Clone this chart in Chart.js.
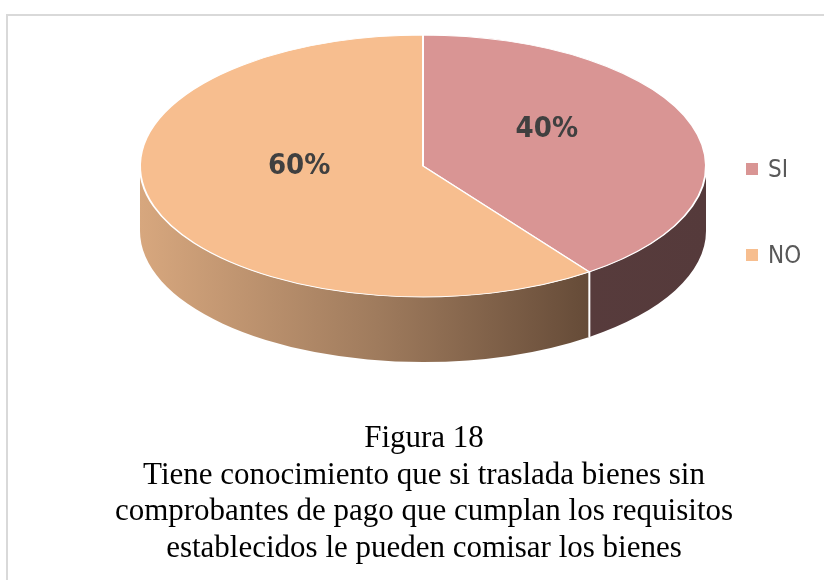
<!DOCTYPE html>
<html>
<head>
<meta charset="utf-8">
<script src="https://cdn.jsdelivr.net/npm/chart.js@4/dist/chart.umd.min.js"></script>
<style>
  html, body { margin: 0; padding: 0; background: #fff; }
  #wrap { position: relative; width: 824px; height: 580px; overflow: hidden; }
  #frame { position: absolute; left: 6px; top: 14px; width: 830px; height: 600px;
           border-top: 2px solid #d9d9d9; border-left: 2px solid #d9d9d9; }
  canvas { position: absolute; left: 0; top: 0; }
  #caption { position: absolute; left: 0; width: 848px; top: 419px; text-align: center;
             font-family: "Liberation Serif", "Times New Roman", serif; font-size: 31px;
             line-height: 36.5px; color: #000; }
</style>
</head>
<body>
<div id="wrap">
  <div id="frame"></div>
  <canvas id="chart" width="824" height="580"></canvas>
  <div id="caption">Figura 18<br>Tiene conocimiento que si traslada bienes sin<br>comprobantes de pago que cumplan los requisitos<br>establecidos le pueden comisar los bienes</div>
</div>
<script>
const categories = ['SI', 'NO'];
const percentages = [40, 60];
const topColors = ['#d99594', '#f7be8f'];

const TILT = 131 / 283;   // vertical squash of the pie
const DEPTH = 65;         // height of the side wall

// side walls + squash, drawn around the normal pie
const pie3d = {
  id: 'pie3d',
  beforeDatasetsDraw(chart) {
    const ctx = chart.ctx;
    const meta = chart.getDatasetMeta(0);
    ctx.save();
    meta.data.forEach((arc, i) => {
      const p = arc.getProps(['x', 'y', 'startAngle', 'endAngle', 'outerRadius']);
      const a1 = Math.max(p.startAngle, 0);
      const a2 = Math.min(p.endAngle, Math.PI);
      if (a2 <= a1) return;
      const R = p.outerRadius, ry = R * TILT;
      let grad;
      if (i === 0) {
        grad = ctx.createLinearGradient(p.x, 0, p.x + R, 0);
        grad.addColorStop(0, '#5a3d3d');
        grad.addColorStop(1, '#553a3b');
      } else {
        grad = ctx.createLinearGradient(p.x - R, 0, p.x + R * 0.68, 0);
        grad.addColorStop(0, '#d7a77e');
        grad.addColorStop(0.5, '#9f7b5d');
        grad.addColorStop(1, '#5e4533');
      }
      ctx.beginPath();
      ctx.ellipse(p.x, p.y, R, ry, 0, a1, a2);
      ctx.ellipse(p.x, p.y + DEPTH, R, ry, 0, a2, a1, true);
      ctx.closePath();
      ctx.fillStyle = grad;
      ctx.fill();
    });
    // white seam where the slices meet on the wall
    meta.data.forEach(arc => {
      const p = arc.getProps(['x', 'y', 'endAngle', 'outerRadius']);
      const a = p.endAngle;
      if (a > 0 && a < Math.PI) {
        const sx = p.x + p.outerRadius * Math.cos(a);
        const sy = p.y + p.outerRadius * TILT * Math.sin(a);
        ctx.beginPath();
        ctx.moveTo(sx, sy);
        ctx.lineTo(sx, sy + DEPTH);
        ctx.strokeStyle = '#ffffff';
        ctx.lineWidth = 2;
        ctx.stroke();
      }
    });
    // squash the top face
    const c = meta.data[0];
    ctx.translate(c.x, c.y);
    ctx.scale(1, TILT);
    ctx.translate(-c.x, -c.y);
  },
  afterDatasetsDraw(chart) {
    const ctx = chart.ctx;
    ctx.restore();
    const meta = chart.getDatasetMeta(0);
    // percent labels
    ctx.save();
    ctx.font = 'bold 29px "Liberation Sans Narrow", "DejaVu Sans Condensed", sans-serif';
    ctx.fillStyle = '#404040';
    ctx.textAlign = 'center';
    ctx.textBaseline = 'middle';
    meta.data.forEach((arc, i) => {
      const p = arc.getProps(['x', 'y', 'startAngle', 'endAngle', 'outerRadius']);
      const mid = (p.startAngle + p.endAngle) / 2;
      const r = p.outerRadius * 0.46;
      const lx = p.x + r * Math.cos(mid);
      const ly = p.y + r * TILT * Math.sin(mid) - 18;
      ctx.fillText(percentages[i] + '%', lx, ly);
    });
    // legend
    ctx.font = '24px "Liberation Sans Narrow", "DejaVu Sans Condensed", sans-serif';
    ctx.textAlign = 'left';
    const legendY = [169, 255];
    categories.forEach((cat, i) => {
      ctx.fillStyle = topColors[i];
      ctx.fillRect(746, legendY[i] - 6, 12, 12);
      ctx.fillStyle = '#595959';
      ctx.fillText(cat, 768, legendY[i] + 2);
    });
    ctx.restore();
  }
};

new Chart(document.getElementById('chart'), {
  type: 'pie',
  data: {
    labels: categories,
    datasets: [{
      data: percentages,
      backgroundColor: topColors,
      borderColor: '#ffffff',
      borderWidth: 2,
      radius: 283,
      clip: false
    }]
  },
  options: {
    responsive: false,
    animation: false,
    events: [],
    layout: { padding: { left: 140, right: 118, top: 0, bottom: 248 } },
    plugins: {
      legend: { display: false },
      tooltip: { enabled: false }
    }
  },
  plugins: [pie3d]
});
</script>
</body>
</html>
